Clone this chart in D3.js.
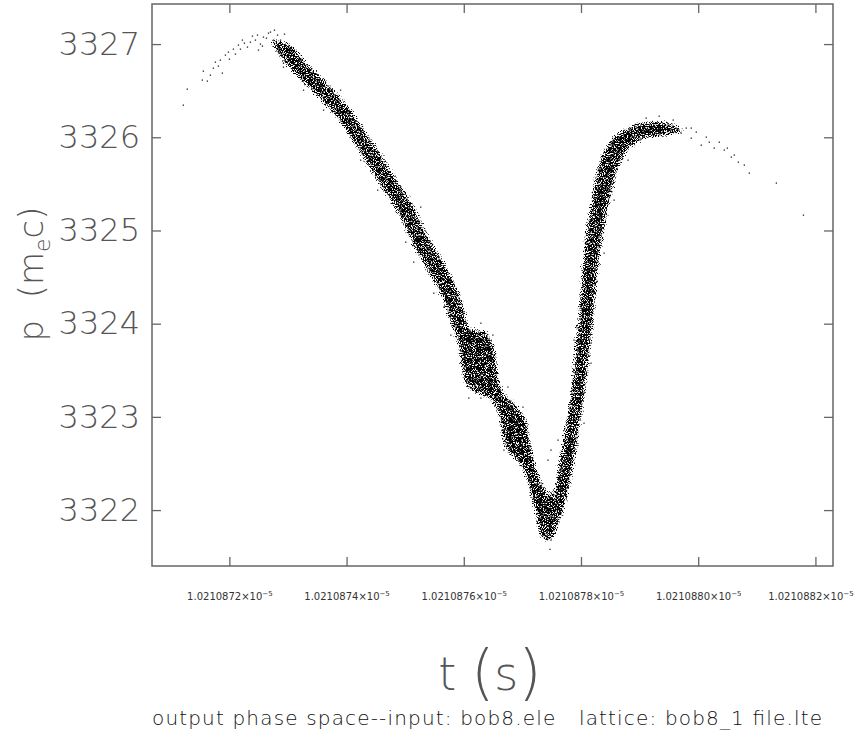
<!DOCTYPE html>
<html>
<head>
<meta charset="utf-8">
<script src="https://cdn.jsdelivr.net/npm/d3@7"></script>
<style>
body { margin: 0; background: #fff; }
text { font-family: "DejaVu Sans", sans-serif; font-weight: 200; fill: #555; }
</style>
</head>
<body>
<div id="vis"></div>
<script>
// t is in picoseconds, p in m_e c
var tTicks = [10210872, 10210874, 10210876, 10210878, 10210880, 10210882];
var pTicks = [3322, 3323, 3324, 3325, 3326, 3327];

// outline of the dense particle cloud, read round from the picture
var coreT = [10210872.701, 10210873.060, 10210873.316, 10210873.607, 10210873.880, 10210874.120, 10210874.342, 10210874.581, 10210874.821, 10210875.111,
    10210875.453, 10210875.744, 10210875.949, 10210876.051, 10210876.085, 10210876.359, 10210876.530, 10210876.598, 10210876.684, 10210876.889,
    10210877.060, 10210877.145, 10210877.214, 10210877.333, 10210877.436, 10210877.504, 10210877.607, 10210877.675, 10210877.744, 10210877.829,
    10210877.880, 10210877.949, 10210878.017, 10210878.085, 10210878.188, 10210878.308, 10210878.513, 10210878.821, 10210879.162, 10210879.453,
    10210879.778, 10210879.368, 10210879.060, 10210878.821, 10210878.650, 10210878.530, 10210878.410, 10210878.325, 10210878.239,
    10210878.171, 10210878.103, 10210878.017, 10210877.932, 10210877.863, 10210877.778, 10210877.675, 10210877.573, 10210877.453, 10210877.316,
    10210877.248, 10210877.179, 10210877.094, 10210876.974, 10210876.838, 10210876.684, 10210876.615, 10210876.513, 10210876.325, 10210876.085,
    10210875.966, 10210875.915, 10210875.863, 10210875.761, 10210875.641, 10210875.453, 10210875.179, 10210874.872, 10210874.598, 10210874.342,
    10210874.120, 10210873.897, 10210873.658, 10210873.385, 10210873.111, 10210872.889];
var coreP = [3327.043, 3327.000, 3326.807, 3326.635, 3326.453, 3326.270, 3326.056, 3325.841, 3325.594, 3325.315,
    3324.886, 3324.586, 3324.296, 3324.060, 3323.953, 3323.931, 3323.770, 3323.481, 3323.266, 3323.148,
    3322.987, 3322.751, 3322.536, 3322.322, 3322.161, 3322.161, 3322.515, 3322.751, 3322.998, 3323.363,
    3323.717, 3324.146, 3324.682, 3325.036, 3325.401, 3325.755, 3325.991, 3326.120, 3326.174, 3326.174,
    3326.066, 3326.002, 3325.970, 3325.863, 3325.669, 3325.380, 3325.026, 3324.682, 3324.146,
    3323.717, 3323.363, 3322.998, 3322.644, 3322.408, 3322.139, 3321.914, 3321.732, 3321.656, 3321.689,
    3321.839, 3322.032, 3322.247, 3322.472, 3322.558, 3322.687, 3322.912, 3323.126, 3323.223, 3323.287,
    3323.459, 3323.674, 3323.856, 3324.017, 3324.232, 3324.478, 3324.768, 3325.176, 3325.444, 3325.702,
    3325.927, 3326.142, 3326.324, 3326.496, 3326.667, 3326.828];

// single particles in the thin head of the bunch
var headPoints = [[10210871.214, 3326.345], [10210871.282, 3326.517], [10210871.538, 3326.614], [10210871.624, 3326.603], [10210871.556, 3326.710],
    [10210871.726, 3326.742], [10210871.880, 3326.689], [10210871.761, 3326.807], [10210871.932, 3326.882], [10210871.983, 3326.914],
    [10210872.068, 3326.946], [10210872.154, 3326.989], [10210872.222, 3327.043], [10210872.359, 3327.021], [10210872.479, 3327.097],
    [10210872.581, 3327.075], [10210872.701, 3327.129], [10210872.821, 3327.097], [10210872.308, 3326.968], [10210872.444, 3327.043],
    [10210872.530, 3327.000], [10210872.632, 3327.064], [10210872.752, 3327.043], [10210872.256, 3327.011], [10210872.103, 3326.893],
    [10210871.812, 3326.764], [10210872.000, 3326.839], [10210872.393, 3327.086], [10210872.667, 3327.118], [10210872.769, 3327.150],
    [10210872.564, 3326.979], [10210872.188, 3326.946], [10210871.675, 3326.667], [10210871.846, 3326.828], [10210872.872, 3327.043],
    [10210872.940, 3327.107], [10210872.496, 3326.936]];

// single particles in the tail
var tailPoints = [[10210879.709, 3326.045], [10210879.795, 3326.099], [10210879.880, 3325.991], [10210879.966, 3326.056], [10210880.051, 3325.916],
    [10210880.137, 3326.002], [10210880.273, 3325.884], [10210880.359, 3325.948], [10210880.444, 3325.863], [10210880.564, 3325.788],
    [10210880.684, 3325.734], [10210880.786, 3325.702], [10210880.872, 3325.616], [10210881.333, 3325.509], [10210881.795, 3325.165],
    [10210879.880, 3326.099], [10210879.624, 3326.099], [10210879.504, 3326.131], [10210880.188, 3325.948], [10210880.496, 3325.884],
    [10210880.615, 3325.809], [10210879.333, 3326.227], [10210879.111, 3326.206], [10210879.573, 3326.185]];

// stray particles just outside the dense band
var strayPoints = [[10210872.923, 3326.753], [10210873.265, 3326.506], [10210873.607, 3326.292], [10210873.897, 3326.506], [10210874.239, 3325.755],
    [10210874.530, 3325.433], [10210872.923, 3326.796], [10210875.009, 3324.875], [10210875.145, 3324.661], [10210875.487, 3324.328],
    [10210875.658, 3324.178], [10210875.778, 3323.878], [10210876.291, 3324.006], [10210876.496, 3323.878], [10210875.265, 3325.251],
    [10210876.085, 3323.202], [10210876.291, 3323.202], [10210876.752, 3323.320], [10210877.487, 3321.678], [10210877.009, 3323.105],
    [10210876.684, 3322.644], [10210877.487, 3322.644], [10210878.393, 3324.757], [10210878.564, 3325.326], [10210878.803, 3325.755],
    [10210877.880, 3323.824], [10210878.171, 3323.792], [10210877.436, 3322.536], [10210877.607, 3322.751], [10210878.171, 3323.577],
    [10210878.051, 3322.933], [10210877.316, 3322.247], [10210877.470, 3321.579]];

var frame = { left: 152, right: 833, top: 4, bottom: 566 };

var x = d3.scaleLinear()
    .domain([10210870.68, 10210882.30])
    .range([frame.left, frame.right]);

var y = d3.scaleLinear()
    .domain([3321.40, 3327.43])
    .range([frame.bottom, frame.top]);

var svg = d3.select('#vis').append('svg')
    .attr("width", 854)
    .attr("height", 732);

//speckle filter: soft edge of the cloud outline thresholded against noise
var defs = svg.append("defs");
var speckle = defs.append("filter")
    .attr("id", "speckle")
    .attr("filterUnits", "userSpaceOnUse")
    .attr("x", 0).attr("y", 0).attr("width", 854).attr("height", 732);
speckle.append("feGaussianBlur")
    .attr("in", "SourceAlpha")
    .attr("stdDeviation", 3.5)
    .attr("result", "soft");
speckle.append("feTurbulence")
    .attr("type", "fractalNoise")
    .attr("baseFrequency", 0.9)
    .attr("numOctaves", 2)
    .attr("seed", 7)
    .attr("result", "noise");
speckle.append("feColorMatrix")
    .attr("in", "noise")
    .attr("type", "matrix")
    .attr("values", "0 0 0 0 0  0 0 0 0 0  0 0 0 0 0  1 0 0 0 0")
    .attr("result", "na");
speckle.append("feComposite")
    .attr("in", "soft")
    .attr("in2", "na")
    .attr("operator", "arithmetic")
    .attr("k1", 0).attr("k2", 8).attr("k3", -8).attr("k4", -2.8);

var plot = svg.append("g");

var cloud = d3.line()
    .x(function(d) { return x(d[0]); })
    .y(function(d) { return y(d[1]); })
    .curve(d3.curveCatmullRomClosed.alpha(0.5));

var corePts = coreT.map(function(t, i) { return [t, coreP[i]]; });

plot.append("path")
    .attr("d", cloud(corePts))
    .attr("fill", "#000")
    .attr("stroke", "#000")
    .attr("stroke-width", 5)
    .attr("stroke-linejoin", "round")
    .attr("filter", "url(#speckle)");

plot.selectAll(".particle")
    .data(headPoints.concat(tailPoints, strayPoints))
    .enter().append("rect")
    .attr("class", "particle")
    .attr("x", function(d) { return x(d[0]) - 0.6; })
    .attr("y", function(d) { return y(d[1]) - 0.6; })
    .attr("width", 1.3)
    .attr("height", 1.3)
    .attr("fill", "#222");

//frame and inward ticks on all four sides
var axisColor = "#666";

var xAxis = d3.axisBottom(x)
    .tickValues(tTicks)
    .tickSizeInner(-9)
    .tickSizeOuter(0)
    .tickPadding(27)
    .tickFormat(function(d) { return (d / 1e7).toFixed(7); });

var gx = svg.append("g")
    .attr("transform", "translate(0," + frame.bottom + ")")
    .call(xAxis);
gx.selectAll(".tick text")
    .attr("font-size", 10)
    .style("font-weight", 400)
    .style("fill", "#333")
    .each(function(d) {
        var t = d3.select(this);
        var s = t.text();
        t.text(s + "\u00d710");
        t.append("tspan").attr("dy", -4).attr("font-size", 7).text("\u22125");
    });
gx.select(".tick:last-of-type text").attr("dx", -5);

svg.append("g")
    .attr("transform", "translate(0," + frame.top + ")")
    .call(d3.axisTop(x).tickValues(tTicks).tickSizeInner(-9).tickSizeOuter(0).tickFormat(""));

var yAxis = d3.axisLeft(y)
    .tickValues(pTicks)
    .tickSizeInner(-9)
    .tickSizeOuter(0)
    .tickPadding(12)
    .tickFormat(d3.format("d"));

var gy = svg.append("g")
    .attr("transform", "translate(" + frame.left + ",0)")
    .call(yAxis);
gy.selectAll(".tick text")
    .attr("font-size", 32)
    .style("fill", "#555");

svg.append("g")
    .attr("transform", "translate(" + frame.right + ",0)")
    .call(d3.axisRight(y).tickValues(pTicks).tickSizeInner(-9).tickSizeOuter(0).tickFormat(""));

svg.selectAll(".domain").remove();
svg.selectAll(".tick line").attr("stroke", axisColor).attr("stroke-width", 1.3);

svg.append("rect")
    .attr("x", frame.left)
    .attr("y", frame.top)
    .attr("width", frame.right - frame.left)
    .attr("height", frame.bottom - frame.top)
    .attr("fill", "none")
    .attr("stroke", axisColor)
    .attr("stroke-width", 1.5);

//axis titles
var yl = svg.append("text")
    .attr("transform", "translate(43,274) rotate(-90)")
    .attr("text-anchor", "middle")
    .attr("font-size", 34)
    .style("white-space", "pre");
yl.append("tspan").text("p  (m");
yl.append("tspan").attr("font-size", 22).attr("dy", 7).text("e");
yl.append("tspan").attr("dy", -7).text("c)");

var xl = svg.append("text")
    .attr("x", 490)
    .attr("y", 690)
    .attr("text-anchor", "middle")
    .attr("font-size", 46)
    .style("white-space", "pre");
xl.append("tspan").text("t ");
xl.append("tspan").attr("font-size", 60).attr("dy", 3).text("(");
xl.append("tspan").attr("dy", -3).text("s");
xl.append("tspan").attr("font-size", 60).attr("dy", 3).text(")");

svg.append("text")
    .attr("x", 152)
    .attr("y", 725)
    .attr("font-size", 20)
    .style("fill", "#111")
    .attr("textLength", 670)
    .attr("lengthAdjust", "spacing")
    .style("white-space", "pre")
    .text("output phase space--input: bob8.ele   lattice: bob8_1 file.lte");
</script>
</body>
</html>
